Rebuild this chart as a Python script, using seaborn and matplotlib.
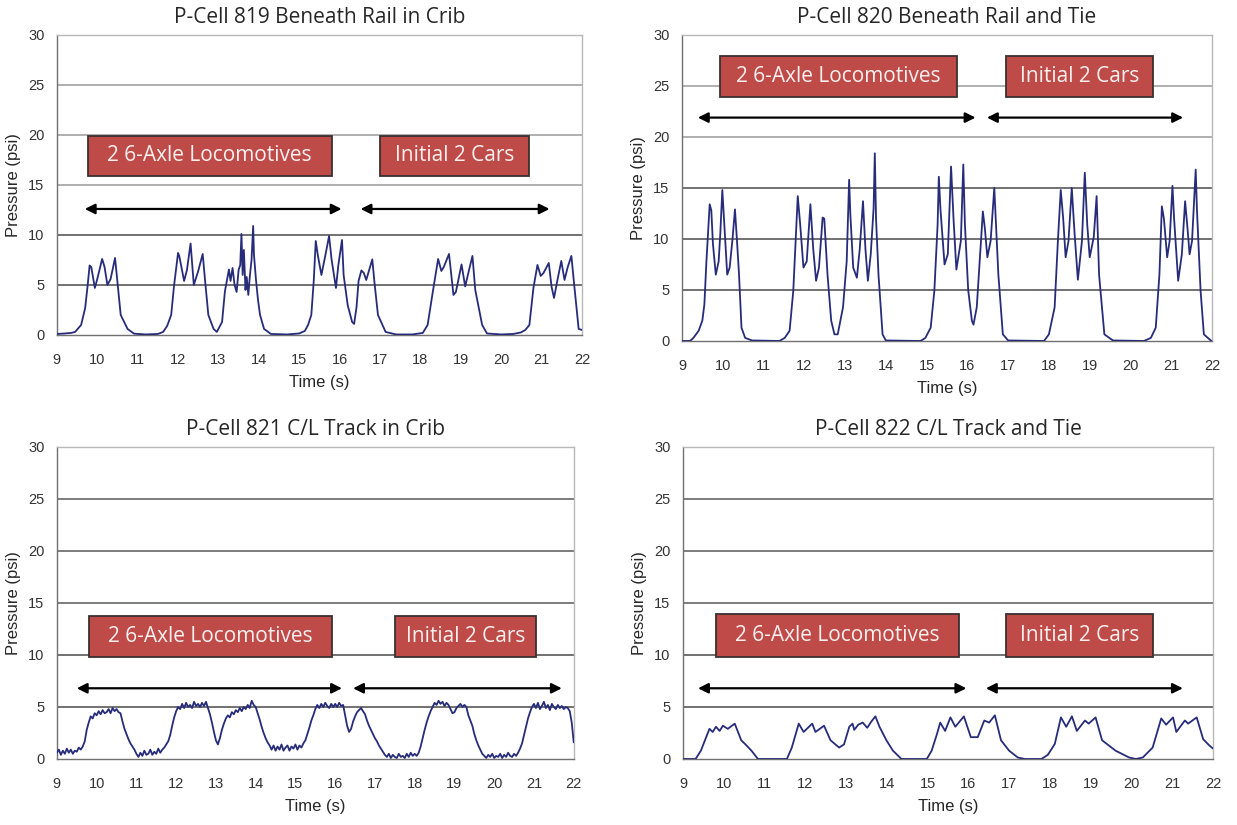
import numpy as np
import pandas as pd
import matplotlib
matplotlib.use("Agg")
import matplotlib.pyplot as plt
from matplotlib.patches import Rectangle
from matplotlib.ticker import MultipleLocator
import seaborn as sns

#****************************************************************************
# data (time in s, pressure in psi)
#****************************************************************************

t819 = [9.00, 9.20, 9.35, 9.45, 9.60, 9.70, 9.76, 9.81, 9.85, 9.94, 10.00, 10.12, 10.18, 10.25,
        10.33, 10.44, 10.50, 10.58, 10.75, 10.91, 11.20, 11.50, 11.63, 11.73, 11.83, 11.90,
        12.00, 12.03, 12.15, 12.22, 12.31, 12.39, 12.50, 12.61, 12.67, 12.75, 12.88, 12.96,
        13.09, 13.16, 13.26, 13.30, 13.35, 13.40, 13.45, 13.50, 13.54, 13.57, 13.60, 13.63,
        13.67, 13.70, 13.74, 13.78, 13.82, 13.86, 13.88, 13.93, 13.98, 14.03, 14.13, 14.30,
        14.70, 15.00, 15.14, 15.22, 15.30, 15.36, 15.41, 15.46, 15.55, 15.64, 15.74, 15.80,
        15.86, 15.91, 15.97, 16.06, 16.10, 16.20, 16.31, 16.36, 16.42, 16.47, 16.54, 16.60,
        16.66, 16.74, 16.81, 16.86, 16.95, 17.14, 17.40, 17.80, 18.06, 18.18, 18.31, 18.44,
        18.52, 18.58, 18.71, 18.78, 18.82, 18.88, 19.02, 19.11, 19.20, 19.29, 19.36, 19.53,
        19.65, 20.00, 20.30, 20.49, 20.60, 20.70, 20.80, 20.90, 20.98, 21.05, 21.18, 21.25,
        21.31, 21.40, 21.49, 21.57, 21.65, 21.74, 21.80, 21.92, 22.00]
p819 = [0.10, 0.15, 0.20, 0.30, 1.00, 2.70, 4.90, 6.95, 6.80, 4.70, 5.60, 7.60, 6.80, 5.00,
        5.60, 7.70, 5.30, 2.00, 0.60, 0.13, 0.05, 0.10, 0.30, 0.90, 2.00, 4.90,
        8.20, 7.90, 5.40, 6.50, 9.15, 5.00, 6.40, 8.10, 5.40, 2.00, 0.60, 0.30,
        1.30, 4.35, 6.55, 5.40, 6.70, 5.00, 4.30, 6.50, 7.00, 10.10, 6.00, 8.50,
        4.50, 5.80, 4.00, 6.00, 7.50, 10.90, 8.00, 5.50, 3.50, 2.00, 0.60, 0.10,
        0.05, 0.15, 0.40, 1.00, 2.00, 5.40, 9.40, 8.00, 6.00, 7.80, 9.90, 7.60,
        6.00, 4.70, 7.00, 9.50, 6.00, 3.00, 1.30, 1.10, 2.80, 5.40, 6.45, 6.20,
        5.50, 6.60, 7.56, 5.40, 2.00, 0.30, 0.05, 0.05, 0.20, 1.00, 4.35, 7.60,
        6.40, 6.80, 8.10, 5.50, 4.00, 4.30, 7.05, 4.85, 6.40, 7.90, 4.50, 1.00,
        0.15, 0.05, 0.10, 0.25, 0.50, 1.00, 4.70, 7.00, 5.90, 6.20, 7.20, 4.80,
        3.70, 5.60, 7.40, 5.50, 6.80, 7.90, 5.40, 0.60, 0.50]

t820 = [9.00, 9.20, 9.28, 9.41, 9.50, 9.55, 9.60, 9.68, 9.72, 9.76, 9.83, 9.90, 9.94, 9.99,
        10.04, 10.11, 10.17, 10.24, 10.30, 10.35, 10.40, 10.46, 10.55, 10.72, 11.39, 11.52,
        11.64, 11.73, 11.84, 11.90, 11.98, 12.06, 12.15, 12.22, 12.29, 12.36, 12.45, 12.49,
        12.57, 12.66, 12.74, 12.82, 12.95, 13.04, 13.10, 13.13, 13.20, 13.29, 13.36, 13.44,
        13.50, 13.56, 13.63, 13.70, 13.73, 13.76, 13.82, 13.92, 14.00, 14.85, 14.97, 15.10,
        15.19, 15.27, 15.30, 15.34, 15.44, 15.52, 15.60, 15.66, 15.73, 15.84, 15.90, 15.94,
        16.02, 16.11, 16.15, 16.23, 16.38, 16.43, 16.49, 16.57, 16.66, 16.76, 16.87, 17.00,
        17.88, 18.00, 18.14, 18.22, 18.29, 18.35, 18.41, 18.48, 18.56, 18.63, 18.71, 18.81,
        18.88, 18.94, 19.00, 19.10, 19.17, 19.23, 19.36, 19.57, 20.33, 20.50, 20.62, 20.71,
        20.77, 20.82, 20.90, 20.96, 21.03, 21.07, 21.17, 21.26, 21.34, 21.40, 21.45, 21.51,
        21.60, 21.63, 21.72, 21.80, 21.97, 22.00]
p820 = [0.00, 0.00, 0.30, 1.00, 2.00, 3.60, 7.80, 13.40, 12.80, 9.50, 6.50, 7.80, 10.50, 14.80,
        11.40, 6.50, 7.20, 10.00, 12.90, 9.80, 6.50, 1.30, 0.30, 0.05, 0.00, 0.30,
        1.00, 4.90, 14.20, 11.40, 7.20, 7.80, 13.40, 9.00, 5.90, 7.20, 12.10, 12.00,
        6.50, 2.00, 0.65, 0.65, 3.30, 7.80, 15.80, 12.40, 7.20, 6.20, 9.00, 13.70,
        9.00, 5.90, 8.50, 13.00, 18.40, 12.00, 6.50, 0.65, 0.05, 0.00, 0.30, 1.30,
        4.90, 11.40, 16.10, 12.90, 7.50, 8.50, 17.10, 12.00, 7.00, 9.80, 17.30, 11.40,
        5.00, 2.00, 1.60, 3.30, 12.70, 11.00, 8.20, 9.80, 15.00, 6.50, 0.65, 0.05,
        0.00, 0.65, 3.30, 9.80, 14.80, 12.00, 8.20, 9.80, 15.00, 10.50, 6.00, 9.80,
        16.50, 11.40, 8.20, 10.20, 14.20, 6.50, 0.65, 0.05, 0.00, 0.30, 1.30, 6.50,
        13.20, 12.00, 8.20, 9.80, 15.20, 12.00, 5.90, 8.50, 13.70, 11.00, 8.50, 9.80,
        16.80, 12.90, 4.90, 0.65, 0.05, 0.00]

# P-Cell 821 is sampled every 0.05 s from 9.00 s to 22.00 s
t821 = np.linspace(9.0, 22.0, 261)
p821 = [0.6, 0.9, 0.4, 0.8, 0.5, 1.0, 0.6, 0.9, 0.5, 0.8, 0.7, 1.1, 0.9, 1.2, 1.7, 2.8, 3.5, 4.1, 3.9, 4.4,
        4.2, 4.6, 4.3, 4.7, 4.4, 4.5, 4.8, 4.4, 4.9, 4.6, 4.8, 4.5, 4.4, 3.6, 2.9, 2.4, 1.9, 1.5, 1.2, 0.9,
        0.5, 0.2, 0.6, 0.3, 0.8, 0.4, 0.5, 0.9, 0.4, 0.7, 0.5, 1.0, 0.6, 0.9, 1.1, 1.4, 1.7, 2.3, 3.2, 4.0,
        4.6, 5.0, 4.8, 5.3, 4.9, 5.4, 5.0, 5.2, 4.9, 5.5, 5.1, 5.3, 5.0, 5.4, 5.1, 5.5, 4.9, 4.3, 3.5, 2.6,
        1.8, 1.4, 2.0, 2.8, 3.4, 3.9, 4.2, 4.0, 4.5, 4.3, 4.7, 4.5, 4.9, 4.6, 5.0, 4.8, 5.2, 4.9, 5.6, 5.2,
        5.0, 4.4, 3.8, 3.1, 2.5, 2.0, 1.6, 1.3, 0.9, 1.3, 0.8, 1.2, 0.9, 1.4, 0.8, 1.1, 1.3, 0.8, 1.2, 1.0,
        1.4, 0.9, 1.3, 1.1, 1.5, 1.8, 2.4, 3.0, 3.7, 4.2, 4.8, 5.2, 4.9, 5.3, 5.0, 5.4, 5.1, 4.9, 5.3, 5.0,
        5.3, 5.0, 5.4, 5.1, 5.2, 4.2, 3.2, 2.6, 2.9, 3.6, 4.1, 4.5, 4.7, 4.9, 4.6, 4.3, 3.7, 3.2, 2.8, 2.4,
        2.0, 1.7, 1.3, 1.0, 0.7, 0.4, 0.2, 0.5, 0.1, 0.4, 0.2, 0.1, 0.5, 0.2, 0.3, 0.1, 0.5, 0.2, 0.6, 0.3,
        0.5, 0.3, 0.6, 1.2, 2.0, 2.8, 3.5, 4.1, 4.6, 5.0, 5.4, 5.2, 5.6, 5.3, 5.5, 5.1, 5.4, 5.2, 4.8, 4.4,
        4.5, 4.9, 5.1, 5.3, 5.0, 5.2, 5.0, 4.2, 3.7, 3.2, 2.4, 1.8, 1.3, 0.9, 0.5, 0.3, 0.1, 0.4, 0.2, 0.5,
        0.1, 0.3, 0.2, 0.5, 0.1, 0.4, 0.2, 0.6, 0.3, 0.2, 0.5, 0.3, 0.6, 1.0, 1.5, 2.3, 3.1, 3.9, 4.5, 5.0,
        5.3, 4.9, 5.4, 4.8, 5.1, 5.5, 4.9, 5.2, 4.7, 5.3, 5.0, 4.8, 5.2, 4.9, 5.1, 4.8, 5.0, 4.9, 4.6, 3.5,
        1.6]

t822 = [9.00, 9.31, 9.44, 9.54, 9.65, 9.73, 9.81, 9.90, 9.98, 10.10, 10.27, 10.43, 10.56, 10.68,
        10.84, 11.55, 11.67, 11.84, 11.96, 12.17, 12.25, 12.46, 12.62, 12.83, 12.95, 13.08,
        13.16, 13.20, 13.30, 13.41, 13.52, 13.62, 13.72, 13.82, 13.99, 14.15, 14.36, 14.98,
        15.10, 15.23, 15.31, 15.43, 15.56, 15.68, 15.89, 16.06, 16.23, 16.39, 16.51, 16.65,
        16.80, 17.00, 17.21, 17.38, 17.79, 17.95, 18.12, 18.27, 18.40, 18.54, 18.66, 18.86,
        18.95, 19.12, 19.28, 19.61, 19.94, 20.11, 20.28, 20.52, 20.73, 20.85, 21.02, 21.10,
        21.31, 21.39, 21.60, 21.76, 21.91, 22.00]
p822 = [0.00, 0.00, 0.80, 1.80, 2.90, 2.60, 3.10, 2.70, 3.20, 2.90, 3.40, 1.80, 1.30, 0.80,
        0.00, 0.00, 1.10, 3.40, 2.60, 3.40, 2.60, 3.20, 1.80, 1.10, 1.40, 3.10,
        3.40, 2.80, 3.30, 3.50, 3.00, 3.60, 4.10, 3.10, 1.80, 0.80, 0.00, 0.00,
        0.80, 2.40, 3.50, 2.70, 4.00, 3.10, 4.10, 2.10, 2.10, 3.70, 3.50, 4.20,
        1.80, 0.80, 0.15, 0.00, 0.00, 0.40, 1.45, 4.00, 3.10, 4.10, 2.70, 3.70,
        3.40, 4.00, 1.80, 0.80, 0.15, 0.00, 0.15, 1.10, 3.90, 3.30, 4.00, 2.60,
        3.70, 3.40, 4.00, 1.90, 1.30, 1.00]

titles = ["P-Cell 819 Beneath Rail in Crib", "P-Cell 820 Beneath Rail and Tie",
          "P-Cell 821 C/L Track in Crib", "P-Cell 822 C/L Track and Tie"]
box_labels = ["2 6-Axle Locomotives", "Initial 2 Cars"]

#****************************************************************************
# layout (figure fractions and data-space annotation positions)
#****************************************************************************

axes_rects = [[0.046, 0.594, 0.4244, 0.3636],
              [0.5513, 0.5867, 0.4285, 0.3709],
              [0.046, 0.080, 0.4178, 0.3782],
              [0.5521, 0.080, 0.4285, 0.3782]]

# (x0, x1, y0, y1) for the two red boxes, per panel
box_pos = [[(9.77, 15.80, 15.9, 19.9), (17.00, 20.70, 15.9, 19.9)],
           [(9.93, 15.75, 23.9, 27.9), (16.95, 20.55, 23.9, 27.9)],
           [(9.81, 15.92, 9.8, 13.75), (17.50, 21.04, 9.8, 13.75)],
           [(9.81, 15.77, 9.8, 13.9), (16.92, 20.53, 9.8, 13.9)]]

# (x0, x1, y) for the two double arrows, per panel
arrow_pos = [[(9.69, 16.05, 12.6), (16.52, 21.20, 12.6)],
             [(9.39, 16.20, 21.9), (16.48, 21.29, 21.9)],
             [(9.50, 16.17, 6.8), (16.45, 21.70, 6.8)],
             [(9.37, 15.95, 6.8), (16.43, 21.26, 6.8)]]

# gridline shade per level 5..25 (jpeg of the source has uneven greys)
grid_shades = [["#4a4a4a", "#4a4a4a", "#9a9a9a", "#9a9a9a", "#9a9a9a"],
               ["#4a4a4a", "#4a4a4a", "#4a4a4a", "#9a9a9a", "#9a9a9a"],
               ["#4a4a4a", "#4a4a4a", "#5a5a5a", "#5a5a5a", "#5a5a5a"],
               ["#4a4a4a", "#4a4a4a", "#5a5a5a", "#5a5a5a", "#5a5a5a"]]

TRACE = "#262c7a"
BOXRED = "#BE4B48"


def draw_panel(ax, t, p, title, boxes, arrows, shades):
    dfrm = pd.DataFrame({"Time (s)": t, "Pressure (psi)": p})
    sns.lineplot(data=dfrm, x="Time (s)", y="Pressure (psi)", ax=ax,
                 color=TRACE, linewidth=1.3, zorder=4)

    ax.set_xlim(9, 22)
    ax.set_ylim(0, 30)
    ax.set_xticks(range(9, 23))
    ax.set_yticks(range(0, 31, 5))
    ax.yaxis.set_minor_locator(MultipleLocator(1))

    for lvl, col in zip(range(5, 30, 5), shades):
        ax.axhline(lvl, color=col, linewidth=1.1, zorder=1)

    for sp in ["top", "right"]:
        ax.spines[sp].set_color("#b8b8b8")
        ax.spines[sp].set_linewidth(1.0)
    for sp in ["left", "bottom"]:
        ax.spines[sp].set_color("#707070")
        ax.spines[sp].set_linewidth(1.0)

    ax.tick_params(axis="x", which="major", direction="out", length=5, width=1,
                   color="#707070", pad=8, labelsize=10.5, labelcolor="#333333")
    ax.tick_params(axis="y", which="major", direction="out", length=4, width=1,
                   color="#707070", pad=5, labelsize=10.5, labelcolor="#333333")
    ax.tick_params(axis="y", which="minor", direction="in", length=2.5, width=0.8,
                   color="#909090")
    for lab in ax.get_xticklabels() + ax.get_yticklabels():
        lab.set_fontfamily("Liberation Sans")

    ax.set_xlabel("Time (s)", fontsize=12, family="Liberation Sans", labelpad=6)
    ax.set_ylabel("Pressure (psi)", fontsize=12, family="Liberation Sans", labelpad=5)
    ax.set_title(title, fontsize=15, family="Open Sans", pad=8.5)

    for (x0, x1, y0, y1), label in zip(boxes, box_labels):
        ax.add_patch(Rectangle((x0, y0), x1 - x0, y1 - y0, facecolor=BOXRED,
                               edgecolor="#3a3030", linewidth=1.3, zorder=5))
        ax.text((x0 + x1) / 2, (y0 + y1) / 2, label, color="#fbf0f0", fontsize=15,
                family="Open Sans", ha="center", va="center", zorder=6)

    for x0, x1, y in arrows:
        ax.annotate("", xy=(x1, y), xytext=(x0, y), zorder=6,
                    arrowprops=dict(arrowstyle="<|-|>", color="black", lw=1.6,
                                    mutation_scale=15, shrinkA=0, shrinkB=0))


def main():
    sns.set_style("white")
    fig = plt.figure(figsize=(12.37, 8.25), dpi=100)

    seriesL = [(t819, p819), (t820, p820), (t821, p821), (t822, p822)]
    for i in range(4):
        ax = fig.add_axes(axes_rects[i])
        t, p = seriesL[i]
        draw_panel(ax, t, p, titles[i], box_pos[i], arrow_pos[i], grid_shades[i])

    fig.savefig("out.png", dpi=100)


if __name__ == "__main__":
    main()
